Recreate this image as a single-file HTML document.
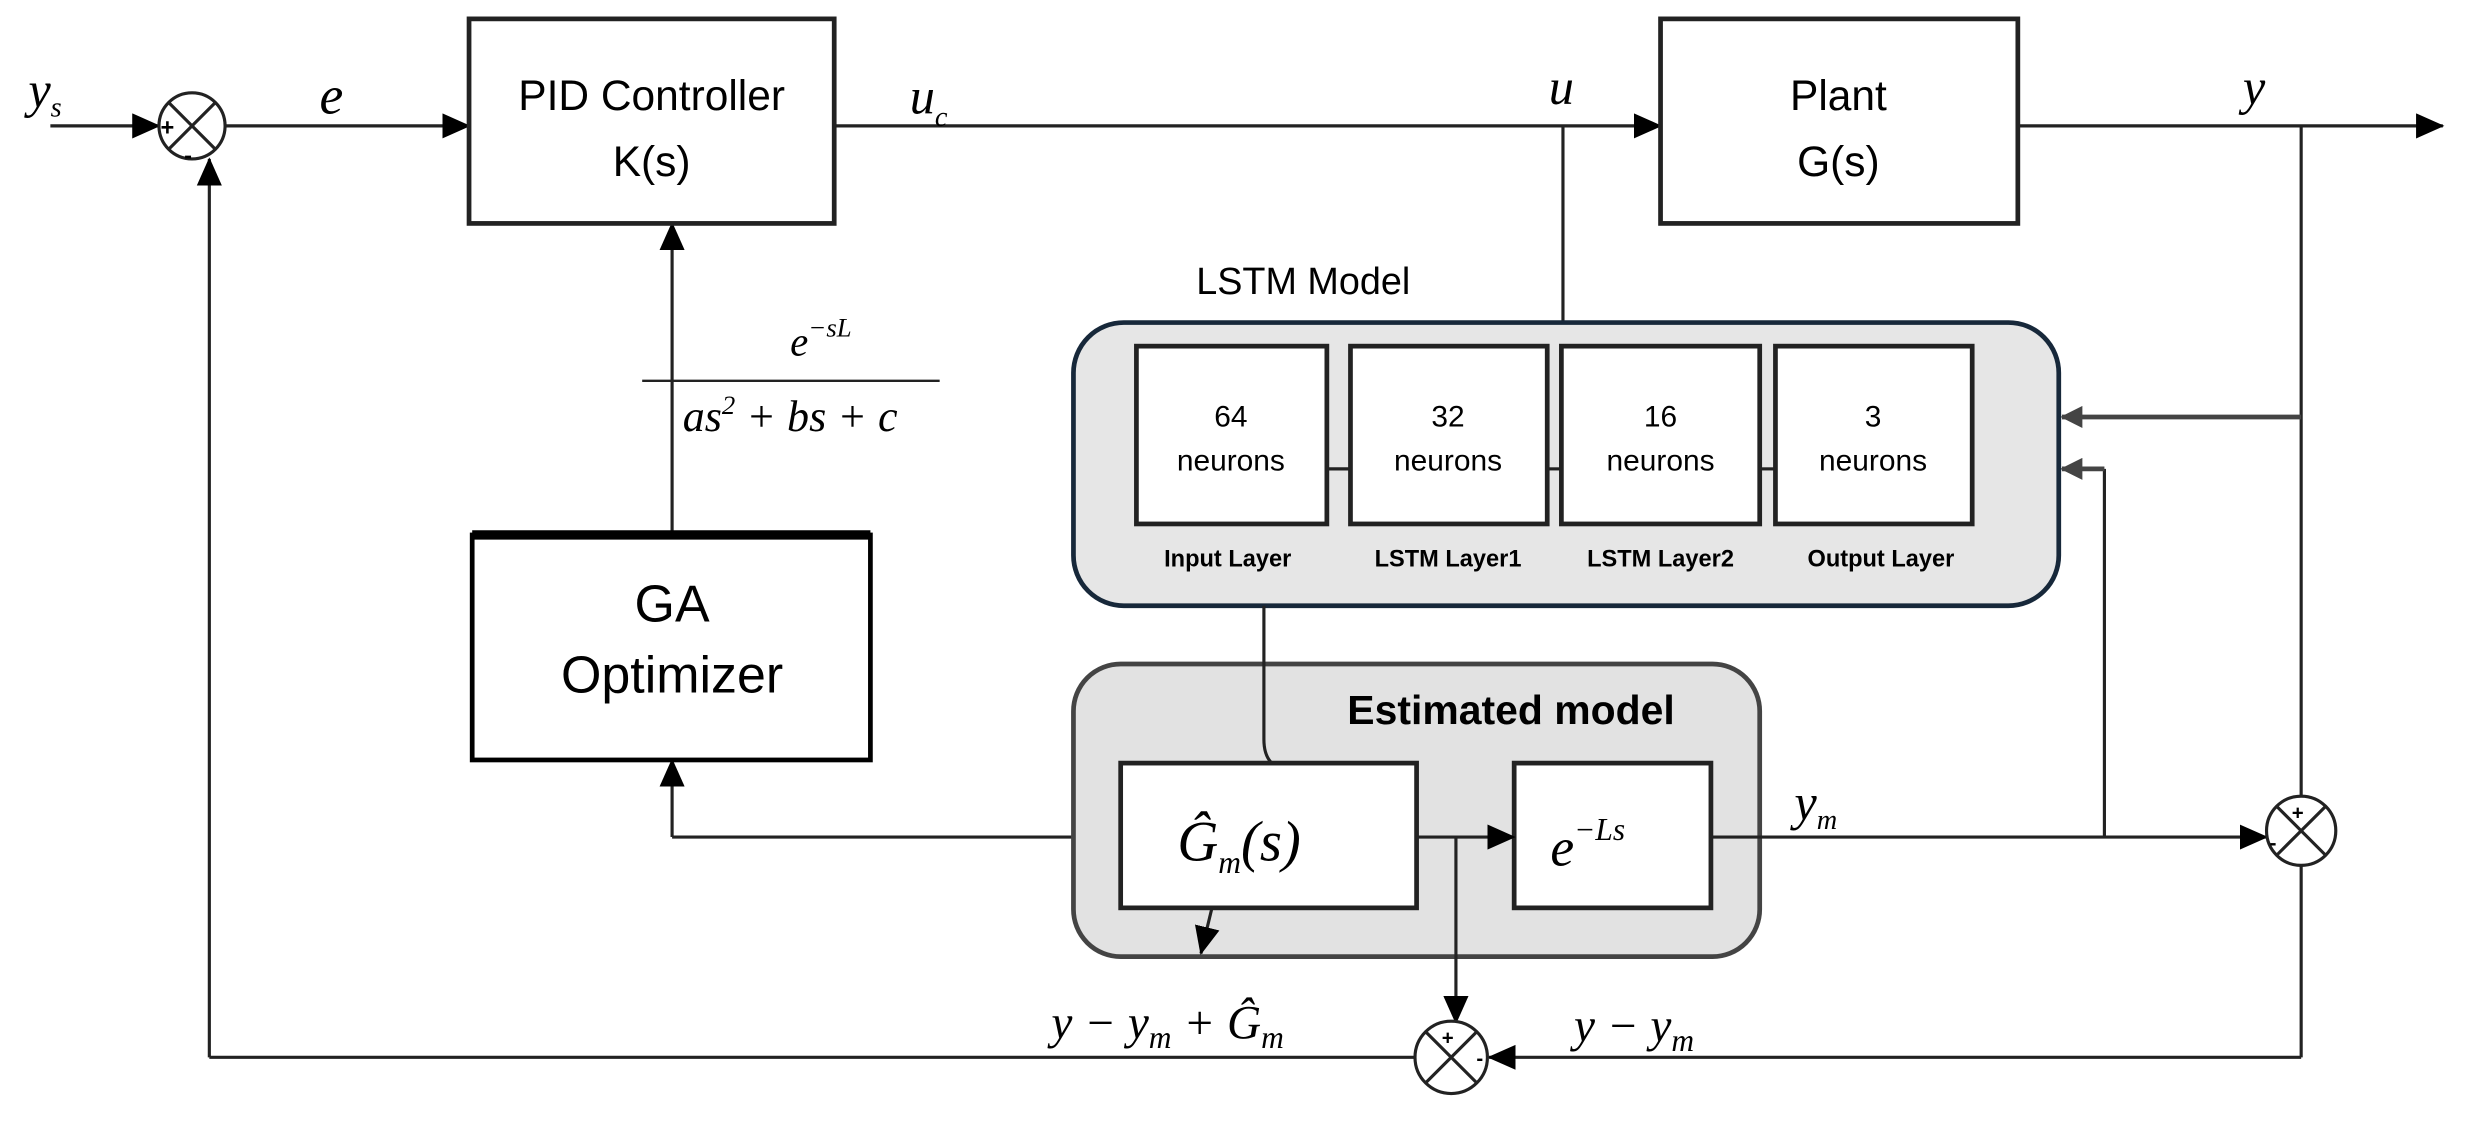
<!DOCTYPE html>
<html><head><meta charset="utf-8"><style>
html,body{margin:0;padding:0;background:#fff;}
svg{display:block;}
.s{font-family:"Liberation Sans",sans-serif;}
.m{font-family:"Liberation Serif",serif;font-style:italic;}
</style></head><body>
<svg width="2468" height="1136" viewBox="0 0 1568 722" preserveAspectRatio="none" xmlns="http://www.w3.org/2000/svg">
<defs>
<marker id="b" markerWidth="18" markerHeight="16" refX="17" refY="8" orient="auto" markerUnits="userSpaceOnUse"><path d="M0,0 L18,8 L0,16 z" fill="#000"/></marker>
<marker id="g" markerWidth="14" markerHeight="14" refX="13" refY="7" orient="auto" markerUnits="userSpaceOnUse"><path d="M0,0 L14,7 L0,14 z" fill="#444"/></marker>
</defs>
<g stroke="#222" stroke-width="2" fill="none">
<line x1="32" y1="80" x2="101" y2="80" marker-end="url(#b)"/>
<line x1="143" y1="80" x2="298" y2="80" marker-end="url(#b)"/>
<line x1="530" y1="80" x2="1055" y2="80" marker-end="url(#b)"/>
<line x1="1282" y1="80" x2="1552" y2="80" marker-end="url(#b)"/>
<line x1="993" y1="80" x2="993" y2="205"/>
<line x1="1462" y1="80" x2="1462" y2="506"/>
<line x1="1462" y1="265" x2="1310" y2="265" stroke="#444" stroke-width="3" marker-end="url(#g)"/>
<line x1="1337" y1="532" x2="1337" y2="298"/>
<line x1="1337" y1="298" x2="1310" y2="298" stroke="#444" stroke-width="3" marker-end="url(#g)"/>
<line x1="1462" y1="550" x2="1462" y2="672"/>
<line x1="1462" y1="672" x2="946" y2="672" marker-end="url(#b)"/>
<line x1="899" y1="672" x2="133" y2="672"/>
<line x1="133" y1="672" x2="133" y2="101" marker-end="url(#b)"/>
<line x1="427" y1="340" x2="427" y2="142" marker-end="url(#b)"/>
<line x1="682" y1="532" x2="427" y2="532"/>
<line x1="427" y1="532" x2="427" y2="483" marker-end="url(#b)"/>
<rect x="298" y="12" width="232" height="130" stroke-width="3"/>
<rect x="1055" y="12" width="227" height="130" stroke-width="3"/>
<rect x="300" y="340" width="253" height="143" stroke="#000" stroke-width="3"/>
<line x1="300" y1="340" x2="553" y2="340" stroke="#000" stroke-width="6"/>
<rect x="682" y="205" width="626" height="180" rx="32" fill="#e6e6e6" stroke="#17283a" stroke-width="3"/>
<rect x="722" y="220" width="121" height="113" fill="#fff" stroke-width="3"/>
<rect x="858" y="220" width="125" height="113" fill="#fff" stroke-width="3"/>
<rect x="992" y="220" width="126" height="113" fill="#fff" stroke-width="3"/>
<rect x="1128" y="220" width="125" height="113" fill="#fff" stroke-width="3"/>
<line x1="843" y1="298" x2="858" y2="298"/>
<line x1="983" y1="298" x2="992" y2="298"/>
<line x1="1118" y1="298" x2="1128" y2="298"/>
<rect x="682" y="422" width="436" height="186" rx="30" fill="#e2e2e2" stroke="#444" stroke-width="3"/>
<path d="M803,385 L803,470 Q803,480 808,485"/>
<rect x="712" y="485" width="188" height="92" fill="#fff" stroke-width="3"/>
<rect x="962" y="485" width="125" height="92" fill="#fff" stroke-width="3"/>
<line x1="900" y1="532" x2="962" y2="532" marker-end="url(#b)"/>
<line x1="925" y1="532" x2="925" y2="650" marker-end="url(#b)"/>
<line x1="1087" y1="532" x2="1440" y2="532" marker-end="url(#b)"/>
<line x1="770" y1="577" x2="763" y2="606" marker-end="url(#b)"/>
<circle cx="122" cy="80" r="21" fill="#fff"/>
<line x1="107" y1="65" x2="137" y2="95"/><line x1="137" y1="65" x2="107" y2="95"/>
<circle cx="1462" cy="528" r="22" fill="#fff"/>
<line x1="1446" y1="512" x2="1478" y2="544"/><line x1="1478" y1="512" x2="1446" y2="544"/>
<circle cx="922" cy="672" r="23" fill="#fff"/>
<line x1="906" y1="656" x2="938" y2="688"/><line x1="938" y1="656" x2="906" y2="688"/>
<line x1="408" y1="242" x2="597" y2="242" stroke-width="1.5"/>
</g>
<g fill="#000">
<text class="s" x="102" y="86" font-size="15" font-weight="bold">+</text>
<text class="s" x="117" y="104" font-size="15" font-weight="bold">-</text>
<text class="s" x="1456" y="521" font-size="13" font-weight="bold">+</text>
<text class="s" x="1442" y="540" font-size="13" font-weight="bold">-</text>
<text class="s" x="916" y="664" font-size="13" font-weight="bold">+</text>
<text class="s" x="938" y="677" font-size="13" font-weight="bold">-</text>

<text class="m" x="18" y="68" font-size="32">y<tspan font-size="18" dy="6">s</tspan></text>
<text class="m" x="203" y="72" font-size="34">e</text>
<text class="m" x="578" y="72" font-size="32">u<tspan font-size="18" dy="8">c</tspan></text>
<text class="m" x="984" y="66" font-size="32">u</text>
<text class="m" x="1425" y="66" font-size="32">y</text>
<text class="m" x="1140" y="521" font-size="32">y<tspan font-size="18" dy="6">m</tspan></text>

<text class="s" x="414" y="70" font-size="27" text-anchor="middle">PID Controller</text>
<text class="s" x="414" y="112" font-size="27" text-anchor="middle">K(s)</text>
<text class="s" x="1168" y="70" font-size="27" text-anchor="middle">Plant</text>
<text class="s" x="1168" y="112" font-size="27" text-anchor="middle">G(s)</text>
<text class="s" x="427" y="395" font-size="33" text-anchor="middle">GA</text>
<text class="s" x="427" y="440" font-size="33" text-anchor="middle">Optimizer</text>

<text class="m" x="502" y="226" font-size="26">e<tspan font-size="17" dy="-12">−sL</tspan></text>
<text class="m" x="502" y="274" font-size="28" text-anchor="middle">as<tspan font-size="17" dy="-11">2</tspan><tspan dy="11"> + bs + c</tspan></text>

<text class="s" x="760" y="187" font-size="24">LSTM  Model</text>
<g class="s" font-size="19" text-anchor="middle">
<text x="782" y="271">64</text><text x="782" y="299">neurons</text>
<text x="920" y="271">32</text><text x="920" y="299">neurons</text>
<text x="1055" y="271">16</text><text x="1055" y="299">neurons</text>
<text x="1190" y="271">3</text><text x="1190" y="299">neurons</text>
</g>
<g class="s" font-size="15" font-weight="bold" text-anchor="middle">
<text x="780" y="360">Input Layer</text>
<text x="920" y="360">LSTM Layer1</text>
<text x="1055" y="360">LSTM Layer2</text>
<text x="1195" y="360">Output Layer</text>
</g>
<text class="s" x="960" y="460" font-size="26" font-weight="bold" text-anchor="middle">Estimated model</text>

<text class="m" x="748" y="547" font-size="36">Ĝ<tspan font-size="20" dy="8">m</tspan><tspan dy="-8">(s)</tspan></text>
<text class="m" x="985" y="550" font-size="34">e<tspan font-size="20" dy="-16">−Ls</tspan></text>

<text class="m" x="668" y="660" font-size="30">y − y<tspan font-size="20" dy="6">m</tspan><tspan dy="-6"> + Ĝ</tspan><tspan font-size="20" dy="6">m</tspan></text>
<text class="m" x="1000" y="662" font-size="30">y − y<tspan font-size="20" dy="6">m</tspan></text>
</g>
</svg>
</body></html>
